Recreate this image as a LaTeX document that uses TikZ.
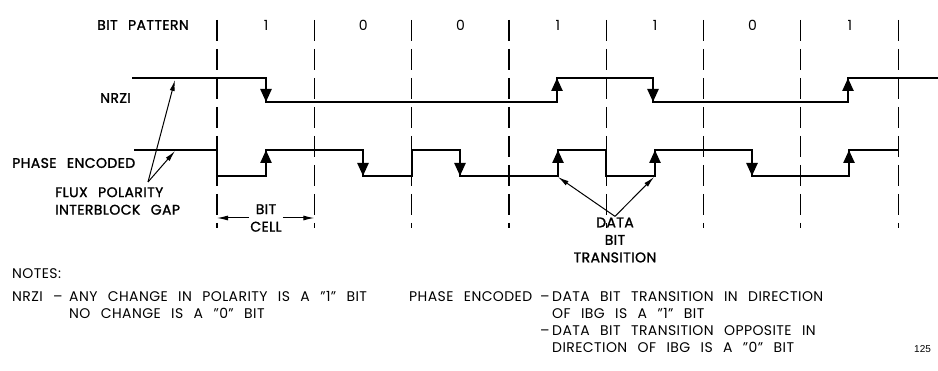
\documentclass[tikz,border=0pt]{standalone}
\usepackage{fontspec}
\setmainfont{Poppins}[LetterSpace=3, WordSpace=2.5]
\newfontfamily\labelfont{Poppins}[LetterSpace=3, WordSpace=2.5, FakeBold=1.5]
\newfontfamily\pagefont{Liberation Sans}
\usetikzlibrary{arrows.meta,positioning}

\tikzset{
  rowlabel/.style={anchor=west, inner sep=0pt, font=\labelfont\fontsize{14}{18}\selectfont},
  bitdigit/.style={inner sep=0pt, font=\fontsize{14}{18}\selectfont},
  remark/.style={inner sep=1pt, align=center, font=\labelfont\fontsize{14}{17.5}\selectfont},
  notetext/.style={anchor=base west, inner sep=0pt, font=\fontsize{14}{17}\selectfont},
  celledge/.style={line width=1.2pt, dash pattern=on 21pt off 8pt},
  wave/.style={line width=2.4pt, line join=miter},
  flux/.style={line width=2.4pt, -{Triangle[length=13pt,width=11pt]}},
  pointer/.style={line width=1pt, -{Latex[length=11pt,width=5pt]}}
}

\begin{document}
\begin{tikzpicture}[x=1pt,y=-1pt]
\useasboundingbox (0,0) rectangle (938,371);

% bit cell boundaries
\foreach \i in {0,...,7}{
  \coordinate (bd\i) at (217+97.3*\i,0);
  \draw[celledge] (217+97.3*\i,20) -- (217+97.3*\i,228);
}

% bit pattern
\node[rowlabel] (pattern) at (97,25) {BIT PATTERN};
\foreach \b [count=\i from 0] in {1,0,0,1,1,0,1}
  \node[bitdigit] (bit\i) at (266+97.3*\i,25) {\b};

% NRZI
\node[rowlabel] (nrzi) at (100,98) {NRZI};
\draw[wave] (132,78) -| (266,102) -| (557,78) -| (653,102) -| (848,78) -- (938,78);
\foreach \x/\ya/\yb in {266/78/102,557/102/78,653/78/102,848/102/78}
  \draw[flux] (\x,\ya) -- (\x,\yb);

% phase encoded
\node[rowlabel] (pe) at (12,163) {PHASE ENCODED};
\draw[wave] (134,150) -| (217,176) -| (266,150) -| (363,176) -| (412,150) -| (460,176)
  -| (558,150) -| (606,176) -| (655,150) -| (752,176) -| (849,150) -- (898,150);
\foreach \x/\ya/\yb in {266/176/150,363/150/176,460/150/176,558/176/150,655/176/150,752/150/176,849/176/150}
  \draw[flux] (\x,\ya) -- (\x,\yb);

% interblock gap
\node[remark, align=left, anchor=west, inner sep=0pt] (ibg) at (55,201) {FLUX POLARITY\\INTERBLOCK GAP};
\coordinate (ibgfoot) at (148,182);
\coordinate (gapN) at (175,80);
\coordinate (gapP) at (175,151);
\draw[pointer] (ibgfoot) -- (gapN);
\draw[pointer] (ibgfoot) -- (gapP);

% bit cell
\node[remark] (cell) at (266,218) {BIT\\CELL};
\draw[pointer] (cell.west) -- (cell.west -| bd0);
\draw[pointer] (cell.east) -- (cell.east -| bd1);

% data bit transition
\node[remark] (dbt) at (615,240) {DATA\\BIT\\TRANSITION};
\coordinate (dbtA) at (558,177);
\coordinate (dbtB) at (654,177);
\draw[pointer] (dbt.north) -- (dbtA);
\draw[pointer] (dbt.north) -- (dbtB);

% notes
\node[notetext] (notes) at (12,279) {NOTES:};
\node[notetext] (nrzinote) at (12,302) {NRZI --};
\node[notetext] (nrzidef1) at (69,302) {ANY CHANGE IN POLARITY IS A "1" BIT};
\node[notetext] (nrzidef2) at (69,319) {NO CHANGE IS A "0" BIT};
\node[notetext] (penote) at (409,302) {PHASE ENCODED};
\node[notetext] (pedash1) at (540,302) {--};
\node[notetext] (pedef1) at (552,302) {DATA BIT TRANSITION IN DIRECTION};
\node[notetext] (pedef2) at (552,319) {OF IBG IS A "1" BIT};
\node[notetext] (pedash2) at (540,336) {--};
\node[notetext] (pedef3) at (552,336) {DATA BIT TRANSITION OPPOSITE IN};
\node[notetext] (pedef4) at (552,353) {DIRECTION OF IBG IS A "0" BIT};
\node[notetext, font=\pagefont\fontsize{10}{12}\selectfont] (page) at (914,353) {125};
\end{tikzpicture}
\end{document}
